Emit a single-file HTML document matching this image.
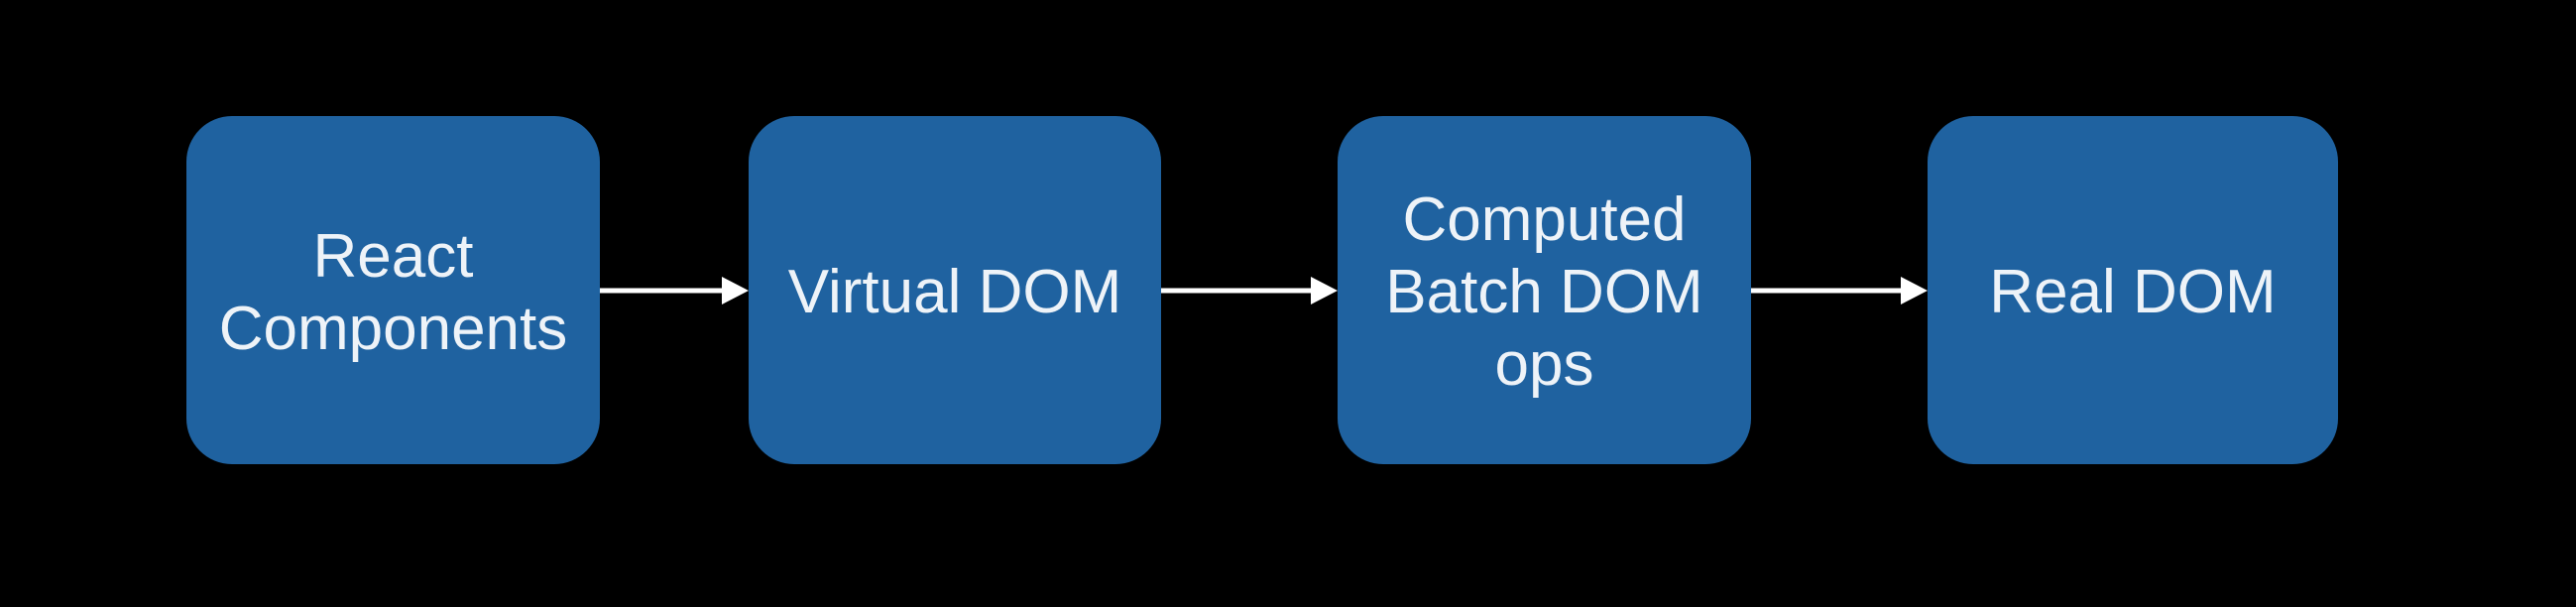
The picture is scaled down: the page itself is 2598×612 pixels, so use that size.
<!DOCTYPE html>
<html><head><style>
html,body{margin:0;padding:0;background:#000;}
body{width:2598px;height:612px;position:relative;overflow:hidden;font-family:"Liberation Sans",sans-serif;}
.b{position:absolute;top:117px;height:351px;background:#1f62a0;border-radius:46px;display:flex;align-items:center;justify-content:center;text-align:center;color:#eef3f8;font-size:62px;line-height:73px;padding-top:4px;box-sizing:border-box;}
</style></head><body>
<div class="b" style="left:188px;width:417px;">React<br>Components</div>
<div class="b" style="left:755px;width:416px;">Virtual DOM</div>
<div class="b" style="left:1349px;width:417px;">Computed<br>Batch DOM<br>ops</div>
<div class="b" style="left:1944px;width:414px;">Real DOM</div>
<svg width="2598" height="612" style="position:absolute;left:0;top:0">
<g fill="#fff" stroke="#fff">
<line x1="605" y1="293" x2="730" y2="293" stroke-width="5"/>
<polygon points="728,279 755,293 728,307" stroke="none"/>
<line x1="1171" y1="293" x2="1324" y2="293" stroke-width="5"/>
<polygon points="1322,279 1349,293 1322,307" stroke="none"/>
<line x1="1766" y1="293" x2="1919" y2="293" stroke-width="5"/>
<polygon points="1917,279 1944,293 1917,307" stroke="none"/>
</g></svg>
</body></html>
